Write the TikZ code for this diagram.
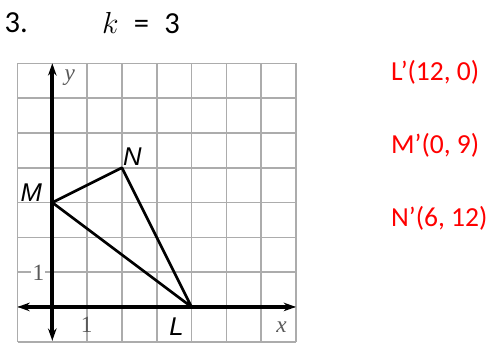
\documentclass[tikz,border=0pt]{standalone}
\usepackage{fontspec}
\setmainfont{Carlito}
\newfontfamily\lblfont{Liberation Sans}
\newfontfamily\axfont{Liberation Serif}
\usetikzlibrary{arrows.meta}
\tikzset{axis/.style={line width=3.4pt,{Stealth[length=10pt,width=7pt]}-{Stealth[length=10pt,width=7pt]}},
pt/.style={font=\lblfont\itshape\fontsize{21}{21}\selectfont,inner sep=0pt},
ax/.style={font=\axfont\fontsize{19}{19}\selectfont,text=black!65,inner sep=1pt},
img/.style={font=\fontsize{22.5}{22.5}\selectfont,text=red,anchor=west,inner sep=0pt}}
\begin{document}
\begin{tikzpicture}[x=1cm,y=1cm]
\useasboundingbox(-1.503,-1.063)rectangle(12.52,8.82);
\draw[gray!65,line width=1.3pt](-1,-1)grid(7,7);
\coordinate(xl)at(-1,0);\coordinate(xr)at(7,0);\coordinate(yb)at(0,-.97);\coordinate(yt)at(0,7);
\node[ax,fill=white](one y)at(-.4,.97){1};
\draw[axis](xl)--(xr);\draw[axis](yb)--(yt);
\coordinate(l)at(4,0);\coordinate(m)at(0,3);\coordinate(n)at(2,4);
\draw[line width=2.2pt,line join=round](l)--(m)--(n)--cycle;
\node[pt](lab l)at(3.57,-.57){L};\node[pt](lab m)at(-.6,3.28){M};\node[pt](lab n)at(2.3,4.32){N};
\node[ax,font=\axfont\itshape\fontsize{19}{19}\selectfont](lab x)at(6.59,-.57){x};\node[ax,font=\axfont\itshape\fontsize{19}{19}\selectfont](lab y)at(.5,6.6){y};
\node[ax](one x)at(.99,-.52){1};
\node[font=\fontsize{25}{25}\selectfont,inner sep=0pt](num)at(-1.04,8.16){3.};
\node[font=\fontsize{25}{25}\selectfont,inner sep=0pt](k)at(2.55,8.16){$k$\enspace=\enspace3};
\node[img](l img)at(9.73,6.75){L’(12, 0)};
\node[img](m img)at(9.73,4.63){M’(0, 9)};
\node[img](n img)at(9.73,2.56){N’(6, 12)};
\end{tikzpicture}
\end{document}
